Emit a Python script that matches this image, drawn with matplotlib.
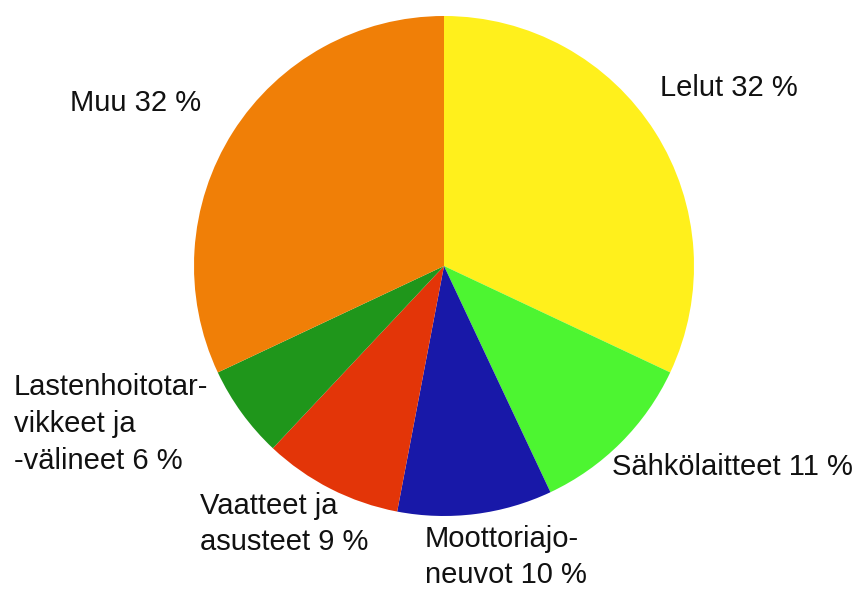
import numpy as np
import matplotlib.pyplot as plt

plt.rcParams['font.family'] = ['Liberation Sans', 'DejaVu Sans']

categories = ['Lelut', 'Sähkölaitteet', 'Moottoriajoneuvot', 'Vaatteet ja asusteet',
              'Lastenhoitotarvikkeet ja -välineet', 'Muu']
shares = [32, 11, 10, 9, 6, 32]
labels = ['Lelut 32 %', 'Sähkölaitteet 11 %', 'Moottoriajo-\nneuvot 10 %',
          'Vaatteet ja\nasusteet 9 %', 'Lastenhoitotar-\nvikkeet ja\n-välineet 6 %', 'Muu 32 %']
colors = ['#FFF01C', '#4DF531', '#1818A8', '#E33508', '#1F961B', '#F07F07']

W, H = 853, 589
# label anchor (left edge, vertical centre) in pixel coords from top-left
label_pos = [(660, 88), (612, 467), (425, 557), (200, 524), (14, 424), (70, 103)]

fig = plt.figure(figsize=(W / 100, H / 100), dpi=100)
ax = fig.add_axes([0, 0, 1, 1])

ax.pie(shares, colors=colors, startangle=90, counterclock=False,
       center=(444, H - 266), radius=250, frame=True)
ax.set_xlim(0, W)
ax.set_ylim(0, H)
ax.set_aspect('equal')
ax.axis('off')

for lab, (x, y) in zip(labels, label_pos):
    ax.text(x, H - y, lab, ha='left', va='center', fontsize=21,
            linespacing=1.4, color='#111111')

fig.savefig('out.png', dpi=100)
